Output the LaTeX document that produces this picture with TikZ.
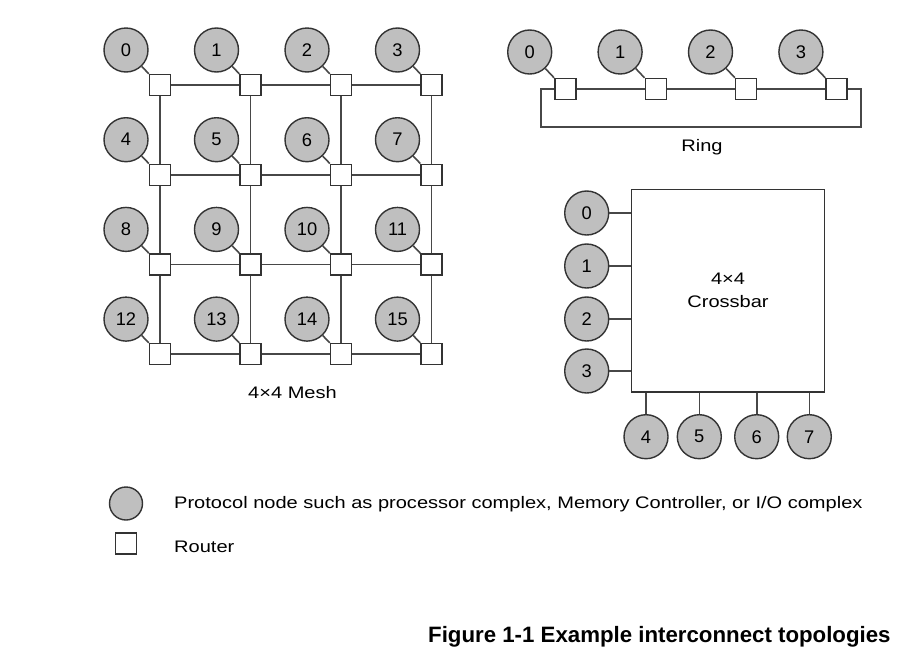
\documentclass[tikz,border=0pt]{standalone}
\usepackage{fontspec}
\setmainfont{Liberation Sans}[FakeStretch=1.2]
\newfontfamily\capfont{Liberation Sans}
\tikzstyle{pn}=[shape=circle, minimum size=44pt, inner sep=0, draw=black!80, line width=1.4pt, fill=black!25, font=\capfont\fontsize{18.3}{20}\selectfont]
\tikzstyle{rt}=[shape=rectangle, minimum size=21pt, inner sep=0, draw=black!80, line width=1.4pt, fill=white]
\tikzstyle{ln}=[draw=black!72, line width=1.6pt]
\tikzstyle{lbl}=[font=\fontsize{16.7}{18}\selectfont, inner sep=0, anchor=base]

\begin{document}
\begin{tikzpicture}[x=1pt, y=-1pt]
\useasboundingbox (0,0) rectangle (918,667);
% mesh
\foreach \i in {0,...,3} {
  \foreach \j in {0,...,3} {
    \pgfmathtruncatemacro\n{4*\j+\i}
    \node at (126+90.5*\i, 50+89.7*\j)[pn](m-\i-\j){\n};
    \node at (160+90.5*\i, 85+89.7*\j)[rt](r-\i-\j){};
    \draw[ln] (m-\i-\j)--(r-\i-\j.north west);
  }
}
\foreach \i/\k in {0/1,1/2,2/3} {
  \foreach \j in {0,...,3} {
    \draw[ln] (r-\i-\j)--(r-\k-\j);
    \draw[ln] (r-\j-\i)--(r-\j-\k);
  }
}
\node at (292.5,398)[lbl](meshlbl){4×4 Mesh};
% ring
\foreach \i in {0,...,3} {
  \node at (529.7+90.4*\i, 52)[pn](g\i){\i};
  \node at (565.3+90.4*\i, 89)[rt](q\i){};
  \draw[ln] (g\i)--(q\i.north west);
}
\draw[ln] (q0)--(q1)--(q2)--(q3);
\draw[ln] (q0.west) -| (540.7,126.7) -- (861,126.7) |- (q3.east);
\node at (702,151)[lbl](ringlbl){Ring};
% crossbar
\node at (728,290.7)[draw=black!80, line width=1.4pt, minimum width=192.6pt, minimum height=202.7pt, inner sep=0, align=center, font=\fontsize{16.7}{23}\selectfont](xb){4×4\\Crossbar};
\foreach \i/\y in {0/213,1/266,2/319,3/371} {
  \node at (586.7,\y)[pn](x\i){\i};
  \draw[ln] (x\i)--(xb.west |- x\i);
}
\foreach \i/\x in {4/646,5/699.3,6/756.7,7/809.3} {
  \node at (\x,436.7)[pn](x\i){\i};
  \draw[ln] (x\i)--(xb.south -| x\i);
}
% legend
\node at (126,503.5)[pn, minimum size=33pt](lgc){};
\node at (126,543.5)[rt](lgr){};
\node at (174,508)[lbl, anchor=base west](lgt1){Protocol node such as processor complex, Memory Controller, or I/O complex};
\node at (174,552)[lbl, anchor=base west](lgt2){Router};
\node at (428,642)[anchor=base west, inner sep=0, font=\capfont\bfseries\fontsize{22.25}{26}\selectfont](cap){Figure 1-1 Example interconnect topologies};
\end{tikzpicture}
\end{document}
